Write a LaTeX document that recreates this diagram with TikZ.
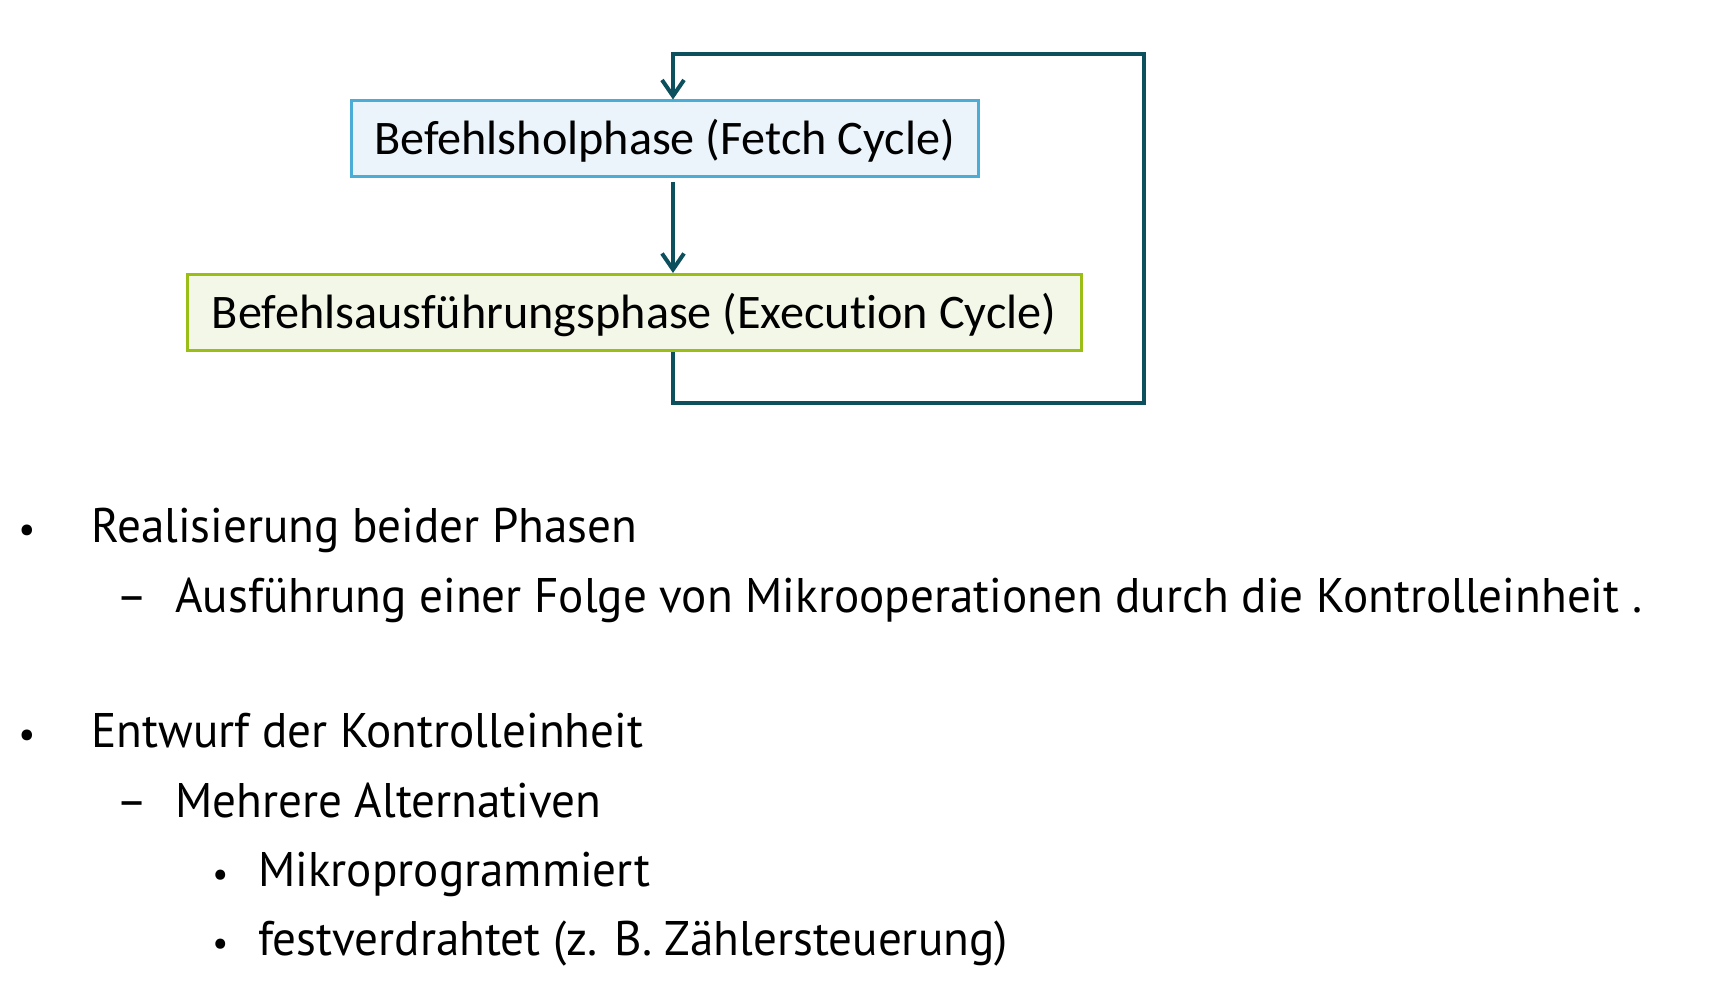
\documentclass[tikz,border=0pt]{standalone}
\usepackage{fontspec}
\usepackage{tikz}
\usetikzlibrary{arrows.meta}
\setmainfont[Ligatures=NoCommon]{Carlito}
\newfontfamily\listfont[FakeStretch=0.97]{PT Sans}
\definecolor{loopcol}{RGB}{12,80,94}
\definecolor{fetchline}{RGB}{75,172,214}
\definecolor{fetchfill}{RGB}{235,244,250}
\definecolor{execline}{RGB}{154,190,22}
\definecolor{execfill}{RGB}{242,247,232}

\begin{document}
\begin{tikzpicture}[x=0.5pt, y=-0.5pt,
  phase/.style={draw, line width=1.5pt, inner sep=0pt, text height=18.5pt, text depth=2.5pt, font=\fontsize{24.1}{29}\selectfont},
  flow/.style={draw=loopcol, line width=2pt, -{Straight Barb[length=8pt,width=11pt]}},
  item/.style={anchor=base west, inner sep=0pt, font=\listfont\fontsize{24.3}{29}\selectfont}]
\useasboundingbox (0,0) rectangle (1723,1000);
% the two phases
\node[phase, draw=fetchline, fill=fetchfill, minimum width=313.5pt, minimum height=38pt] (fetch) at (664.5,139) {Befehlsholphase (Fetch Cycle)};
\node[phase, draw=execline, fill=execfill, minimum width=447pt, minimum height=38pt] (exec) at (634,312.5) {Befehlsausführungsphase (Execution Cycle)};
\coordinate (top) at (673,54);
\coordinate (ret) at (1144,403);
\draw[flow, shorten <=2pt] (fetch.south -| top) -- (exec.north -| top);
\draw[flow] (exec.south -| top) |- (ret) |- (top) -- (fetch.north -| top);
% list
\node[item, scale=0.8] (b1) at (18,542) {•};
\node[item] (real) at (91,542) {Realisierung beider Phasen};
\node[item] (d1) at (116,612) {–};
\node[item] (ausf) at (175,612) {Ausführung einer Folge von Mikrooperationen durch die Kontrolleinheit .};
\node[item, scale=0.8] (b2) at (18,747) {•};
\node[item] (entw) at (91,747) {Entwurf der Kontrolleinheit};
\node[item] (d2) at (116,817) {–};
\node[item] (mehr) at (175,817) {Mehrere Alternativen};
\node[item, scale=0.75] (b3) at (212,886) {•};
\node[item] (mikro) at (258,886) {Mikroprogrammiert};
\node[item, scale=0.75] (b4) at (212,955) {•};
\node[item] (fest) at (258,955) {festverdrahtet (z. B. Zählersteuerung)};
\end{tikzpicture}
\end{document}
